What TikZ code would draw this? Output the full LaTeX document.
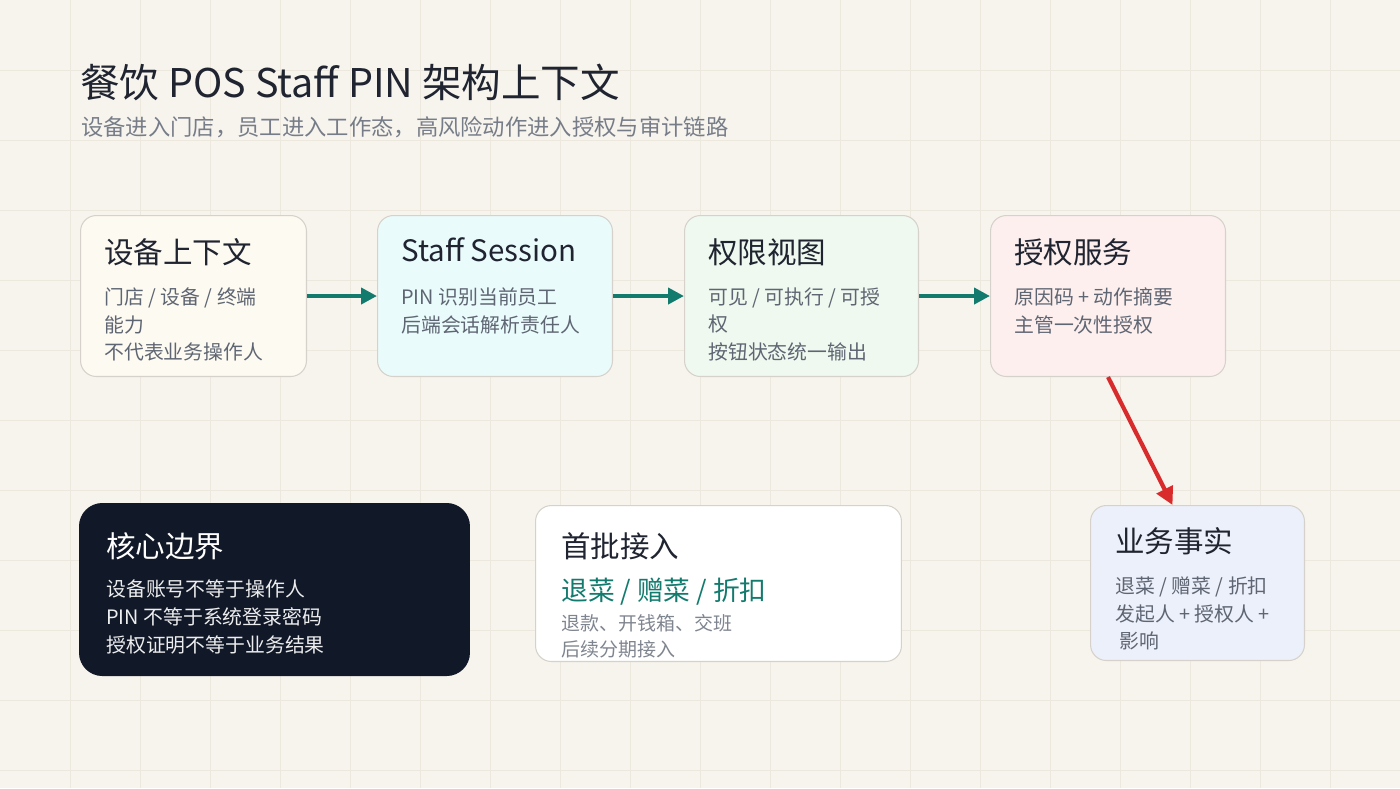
\documentclass[tikz,border=0pt]{standalone}
\usepackage{fontspec}
\setmainfont{Noto Sans CJK SC}
\usetikzlibrary{arrows.meta,positioning}
\definecolor{paper}{HTML}{F7F4EE}
\definecolor{gridc}{HTML}{EDE8DE}
\definecolor{edge}{HTML}{D6D2CB}
\definecolor{ink}{HTML}{1F2430}
\definecolor{mute}{HTML}{5F6673}
\definecolor{teal}{HTML}{137B6E}
\definecolor{alert}{HTML}{D92B2B}
\definecolor{navy}{HTML}{111827}
\definecolor{creamf}{HTML}{FDFAF1}
\definecolor{cyanf}{HTML}{EAFBFB}
\definecolor{greenf}{HTML}{EFF9EF}
\definecolor{pinkf}{HTML}{FDEFEE}
\definecolor{bluef}{HTML}{ECF0FA}
\tikzset{
  box/.style={draw=edge, line width=0.6pt, rounded corners=9pt, inner sep=0pt, anchor=north west, minimum height=3.22cm},
  ttl/.style={anchor=west, inner sep=0pt, text=ink, font=\fontsize{16.8}{19}\selectfont},
  body/.style={anchor=north west, inner sep=0pt, align=left, text=mute, font=\fontsize{11.3}{15.9}\selectfont},
  flow/.style={-{Triangle[length=9pt,width=9pt]}, line width=2.4pt, draw=teal},
}
\begin{document}
\begin{tikzpicture}[x=0.02cm, y=-0.02cm]
  % background
  \fill[paper] (0,0) rectangle (1400,788);
  \useasboundingbox (0,0) rectangle (1400,788);
  \foreach \i in {1,...,19} \draw[gridc, line width=0.5pt] (\i*70,0) -- (\i*70,788);
  \foreach \j in {1,...,11} \draw[gridc, line width=0.5pt] (0,\j*70) -- (1400,\j*70);

  % heading
  \node[anchor=west, inner sep=0pt, text=ink, font=\fontsize{22.5}{26}\selectfont] (head) at (80,82) {餐饮 POS Staff PIN 架构上下文};
  \node[anchor=west, inner sep=0pt, text=mute!85, font=\fontsize{12.7}{15}\selectfont] (sub) at (81,127) {设备进入门店，员工进入工作态，高风险动作进入授权与审计链路};

  % top row
  \node[box, fill=creamf, minimum width=4.52cm] (device) at (80,215) {};
  \node[box, fill=cyanf, minimum width=4.7cm] (session) at (377,215) {};
  \node[box, fill=greenf, minimum width=4.68cm] (perm) at (684,215) {};
  \node[box, fill=pinkf, minimum width=4.7cm] (auth) at (990,215) {};

  \node[ttl] at ([shift={(24,37)}]device.north west) {设备上下文};
  \node[body] at ([shift={(24,72)}]device.north west) {门店 / 设备 / 终端\\能力\\不代表业务操作人};
  \node[ttl] at ([shift={(24,35)}]session.north west) {Staff Session};
  \node[body] at ([shift={(24,72)}]session.north west) {PIN 识别当前员工\\后端会话解析责任人};
  \node[ttl] at ([shift={(24,37)}]perm.north west) {权限视图};
  \node[body] at ([shift={(24,72)}]perm.north west) {可见 / 可执行 / 可授\\权\\按钮状态统一输出};
  \node[ttl] at ([shift={(24,37)}]auth.north west) {授权服务};
  \node[body] at ([shift={(24,72)}]auth.north west) {原因码 + 动作摘要\\主管一次性授权};

  % bottom row
  \node[box, fill=navy, draw=navy, rounded corners=13pt, minimum width=7.8cm, minimum height=3.44cm] (core) at (79,503) {};
  \node[ttl, text=white] at ([shift={(27,43)}]core.north west) {核心边界};
  \node[body, text=white!92!navy] at ([shift={(27,76)}]core.north west) {设备账号不等于操作人\\PIN 不等于系统登录密码\\授权证明不等于业务结果};

  \node[box, fill=white, minimum width=7.32cm, minimum height=3.12cm] (first) at (535,505) {};
  \node[ttl] at ([shift={(26,41)}]first.north west) {首批接入};
  \node[ttl, text=teal, font=\fontsize{15.2}{18}\selectfont] at ([shift={(26,87)}]first.north west) {退菜 / 赠菜 / 折扣};
  \node[body, text=mute!80, font=\fontsize{10.8}{14.7}\selectfont] at ([shift={(26,109)}]first.north west) {退款、开钱箱、交班\\后续分期接入};

  \node[box, fill=bluef, minimum width=4.28cm, minimum height=3.1cm] (fact) at (1090,505) {};
  \node[ttl] at ([shift={(25,36)}]fact.north west) {业务事实};
  \node[body] at ([shift={(25,71)}]fact.north west) {退菜 / 赠菜 / 折扣\\发起人 + 授权人 +\\\ 影响};

  % connectors
  \draw[flow] (device) -- (session);
  \draw[flow] (session) -- (perm);
  \draw[flow] (perm) -- (auth);
  \draw[-{Triangle[length=10pt,width=10pt]}, line width=2.4pt, draw=alert] (auth.south) -- ([xshift=-0.5cm]fact.north);
\end{tikzpicture}
\end{document}
